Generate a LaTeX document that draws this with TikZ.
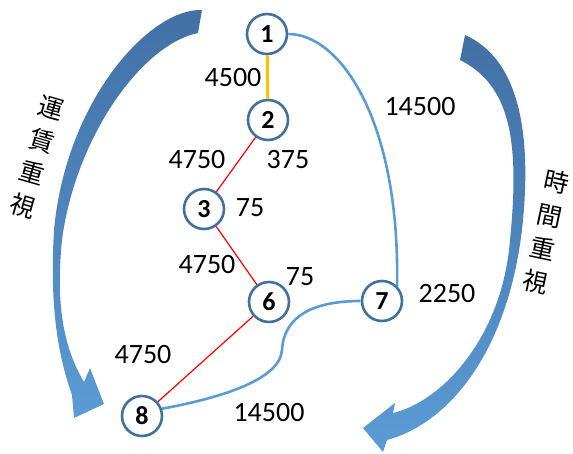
\documentclass[tikz,border=0pt]{standalone}
\usepackage{fontspec}
\setmainfont{Carlito}
\newfontfamily\jpfont{Noto Sans CJK JP}

\definecolor{nodeblue}{RGB}{65,113,156}
\definecolor{linkblue}{RGB}{91,155,213}
\definecolor{linkgold}{RGB}{255,192,0}
\definecolor{arrowdark}{RGB}{66,112,165}

\tikzset{
    city/.style={circle, draw=nodeblue, line width=2.6pt, fill=white,
        minimum size=40pt, inner sep=0pt, font=\bfseries\fontsize{26}{26}\selectfont},
    cost/.style={inner sep=0pt, font=\fontsize{28}{28}\selectfont},
    vtext/.style={align=center, inner sep=0pt, font=\jpfont\fontsize{25}{34}\selectfont},
    cheap/.style={red, line width=1.2pt},
    fast/.style={linkblue, line width=2.6pt},
    bigarrow/.style={top color=arrowdark, bottom color=linkblue, draw=none}
}

\begin{document}
\begin{tikzpicture}[x=1pt, y=-1pt]

    \useasboundingbox (0,0) rectangle (573,453);

    % flechas grandes
    \shade[bigarrow]
        (202,10) .. controls (150,8) and (66,100) .. (54,230)
        .. controls (50,300) and (56,350) .. (72,395)
        -- (74,418) -- (104,404) -- (90,368) -- (84,382)
        .. controls (62,345) and (56,300) .. (62,240)
        .. controls (75,140) and (140,45) .. (198,33)
        -- cycle;

    \shade[bigarrow]
        (465,35) .. controls (510,55) and (528,110) .. (525,190)
        .. controls (520,330) and (460,420) .. (387,440)
        -- (383,452) -- (363,428) -- (395,403) -- (393,413)
        .. controls (440,402) and (502,340) .. (510,240)
        .. controls (520,140) and (510,85) .. (460,60)
        -- cycle;

    \node[vtext, rotate=-16] (fare) at (37,157) {運\\賃\\重\\視};
    \node[vtext, rotate=-12] (time) at (546,232) {時\\間\\重\\視};

    \node[city] (n1) at (267,34) {1};
    \node[city] (n2) at (268,120) {2};
    \node[city] (n3) at (204,209) {3};
    \node[city] (n6) at (269,302) {6};
    \node[city] (n7) at (382,301) {7};
    \node[city] (n8) at (142,416) {8};

    \draw[linkgold, line width=3pt] (n1) -- (n2);
    \draw[cheap] (n2) -- (n3);
    \draw[cheap] (n3) -- (n6);
    \draw[cheap] (n6) -- (n8);
    \draw[fast] (n1.east) .. controls (340,34) and (400,120) .. (n7.45);
    \draw[fast] (n7.west) .. controls (315,301) and (284,315) .. (282,350)
        .. controls (280,380) and (220,398) .. (n8.20);

    % costos
    \node[cost] (c12) at (233,78) {4500};
    \node[cost] (c17) at (420,107) {14500};
    \node[cost] (c23) at (197,160) {4750};
    \node[cost] (w2) at (288,160) {375};
    \node[cost] (w3) at (250,208) {75};
    \node[cost] (c36) at (207,265) {4750};
    \node[cost] (w6) at (300,277) {75};
    \node[cost] (w7) at (447,294) {2250};
    \node[cost] (c68) at (143,355) {4750};
    \node[cost] (c78) at (269,413) {14500};

\end{tikzpicture}
\end{document}
